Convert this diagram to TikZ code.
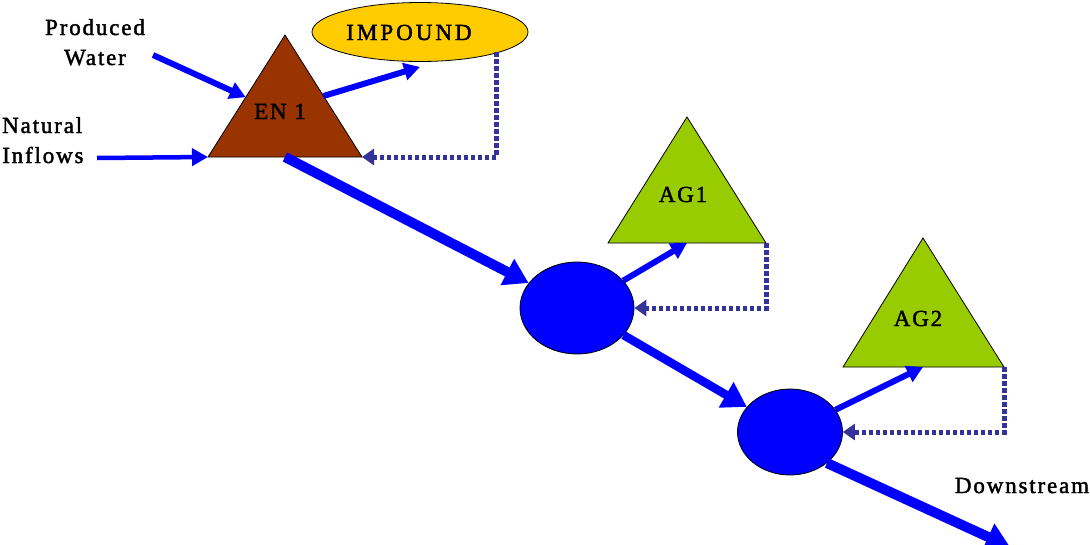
\documentclass[tikz,border=0pt]{standalone}
\usepackage{fontspec}
\setmainfont{Liberation Serif}[LetterSpace=8, FakeBold=1.8]
\usetikzlibrary{arrows.meta,shapes.geometric,calc}

\definecolor{enbrown}{HTML}{993300}
\definecolor{impgold}{HTML}{FFCC00}
\definecolor{aggreen}{HTML}{99CC00}
\definecolor{flowblue}{HTML}{0000FF}
\definecolor{backblue}{HTML}{333399}

\begin{document}
\begin{tikzpicture}[x=1pt,y=-1pt,
	flow/.style={draw=flowblue, line width=6pt, -{Triangle[length=16pt,width=17pt]}},
	bigflow/.style={draw=flowblue, line width=10pt, -{Triangle[length=24pt,width=28pt]}},
	back/.style={draw=backblue, line width=5pt, dash pattern=on 4.5pt off 2.5pt, -{Triangle[length=12pt,width=16pt]}},
	res/.style={ellipse, draw, line width=0.8pt, fill=flowblue, inner sep=0pt},
	lab/.style={font=\fontsize{23}{30}\selectfont, anchor=base, inner sep=0pt}]
	\useasboundingbox (0,0) rectangle (1090,544);

	% trojkaty
	\coordinate (en1top) at (285,35);
	\coordinate (en1left) at (208,157);
	\coordinate (en1right) at (362,157);
	\coordinate (en1base) at (285,157);
	\coordinate (ag1top) at (687,117);
	\coordinate (ag1left) at (608,243);
	\coordinate (ag1right) at (766,243);
	\coordinate (ag1base) at (687,243);
	\coordinate (ag2top) at (923,238);
	\coordinate (ag2left) at (843,367);
	\coordinate (ag2right) at (1004,367);
	\coordinate (ag2base) at (923,367);
	\foreach \t/\col in {en1/enbrown, ag1/aggreen, ag2/aggreen} {
		\draw[line width=0.8pt, fill=\col] (\t top) -- (\t left) -- (\t right) -- cycle;
	}
	\node[lab] (en1) at (280,119) {EN 1};
	\node[lab] (ag1) at (683,202) {AG1};
	\node[lab] (ag2) at (918,326) {AG2};

	\node[ellipse, draw, line width=0.8pt, fill=impgold, minimum width=216pt, minimum height=59pt] (imp) at (420,32) {};
	\node[lab] (implab) at (409,40) {\addfontfeature{LetterSpace=13}IMPOUND};

	\node[res, minimum width=114pt, minimum height=92pt] (res1) at (577,308) {};
	\node[res, minimum width=105pt, minimum height=86pt] (res2) at (790,432) {};

	\node[lab, align=center] (pw) at (95,65) {Produced\\Water};
	\node[lab, align=left, anchor=base west] (ni) at (2,163) {Natural\\Inflows};
	\node[lab] (ds) at (1022,493) {Downstream};

	\coordinate (pwend) at (153,55);
	\coordinate (niend) at (97,158);
	\coordinate (impout) at (496,52);
	\coordinate (dsend) at (1010,547);

	% doplywy
	\draw[flow] (pwend) -- ($(en1top)!0.51!(en1left)$);
	\draw[flow, line width=4.5pt] (niend) -- (en1left);
	\draw[flow] ($(en1top)!0.5!(en1right)$) -- ([yshift=-5pt]imp.south);

	\draw[bigflow] (en1base) -- (res1);
	\draw[flow] (res1) -- (ag1base);
	\draw[bigflow, line width=8.5pt] (res1) -- (res2);
	\draw[flow] (res2) -- (ag2base);
	\draw[bigflow] (res2.-40) -- (dsend);

	% powroty
	\draw[back] (impout) |- (en1right);
	\draw[back] (ag1right) |- (res1.east);
	\draw[back] (ag2right) |- (res2.east);
\end{tikzpicture}
\end{document}
